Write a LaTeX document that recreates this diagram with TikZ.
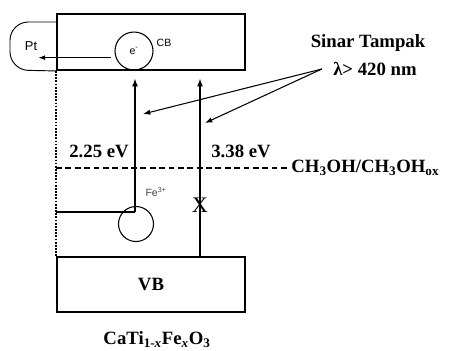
\documentclass[tikz,border=0pt]{standalone}
\usepackage{fontspec}
\setmainfont{Liberation Serif}
\newfontfamily\arialfont{Liberation Sans}
\usetikzlibrary{arrows.meta}

\begin{document}
\begin{tikzpicture}[x=0.03cm,y=-0.03cm,
  band/.style={draw,line width=1.6pt,minimum width=5.64cm,inner sep=0pt},
  hole/.style={circle,draw,line width=0.9pt,inner sep=0pt},
  big/.style={font=\bfseries\fontsize{16}{19}\selectfont,inner sep=1pt},
  small/.style={font=\arialfont\fontsize{9}{10}\selectfont,inner sep=1pt},
  jump/.style={-{Latex[length=2.4mm,width=1.8mm]},line width=1.5pt},
  ray/.style={-{Latex[length=2.2mm,width=1.6mm]},line width=0.9pt},
  level/.style={line width=1pt,dash pattern=on 5pt off 3pt}
]
  \useasboundingbox (0,0) rectangle (463,350);

  \node[band,minimum height=1.68cm] (cb) at (151,42) {};
  \node[band,minimum height=1.65cm,big] (vb) at (151,284.5) {VB};

  \node[hole,minimum size=1.14cm,small] (e) at (134,51) {e\textsuperscript{-}};
  \node[small] (cblbl) at (164,43) {CB};

  \node[font=\arialfont\fontsize{11}{12}\selectfont,inner sep=1pt] (pt) at (31,46) {Pt};
  \draw[line width=0.8pt,rounded corners=0.55cm] (cb.west |- 0,22) -- (10,22) -- (10,70) -- (cb.south west);
  \draw[-{Latex[length=2mm,width=1.5mm]},line width=0.8pt] ([xshift=-0.15cm]e.200) -- (e.200 -| pt.east);

  \node[hole,minimum size=1.05cm] (fe) at (136,224) {};
  \node[small,text=black!75] (felbl) at (156,192) {Fe\textsuperscript{3+}};
  \coordinate (fetop) at (135,212);
  \draw[line width=1.2pt] (fetop -| cb.west) -- (fetop);
  \draw[jump,shorten >=0.22cm] (fetop) -- (fetop |- cb.south);

  \node[font=\fontsize{19}{20}\selectfont,inner sep=0pt] (x) at (200,205) {X};
  \draw[jump,shorten >=0.22cm] (x |- vb.north) -- (x |- cb.south);

  \draw[line width=1.8pt,dash pattern=on 1.5pt off 1.2pt] (cb.south west) -- (vb.north west);

  \node[big,anchor=west] (ch) at (290,168) {CH\textsubscript{3}OH/CH\textsubscript{3}OH\textsubscript{ox}};
  \draw[level] (ch.west -| cb.west) -- (ch.west);

  \node[big] (gap1) at (99,151) {2.25 eV};
  \node[big] (gap2) at (241,151) {3.38 eV};

  \node[big] (sun) at (368,43) {Sinar Tampak};
  \node[big] (lam) at (375,69) {λ> 420 nm};
  \coordinate (src) at ([xshift=-0.3cm]lam.west);
  \coordinate (hit1) at (143,114);
  \coordinate (hit2) at (205,123);
  \draw[ray] (src) -- (hit1);
  \draw[ray] (src) -- (hit2);

  \node[big] (name) at (157,340) {CaTi\textsubscript{1-\textit{x}}Fe\textsubscript{\textit{x}}O\textsubscript{3}};

\end{tikzpicture}
\end{document}
